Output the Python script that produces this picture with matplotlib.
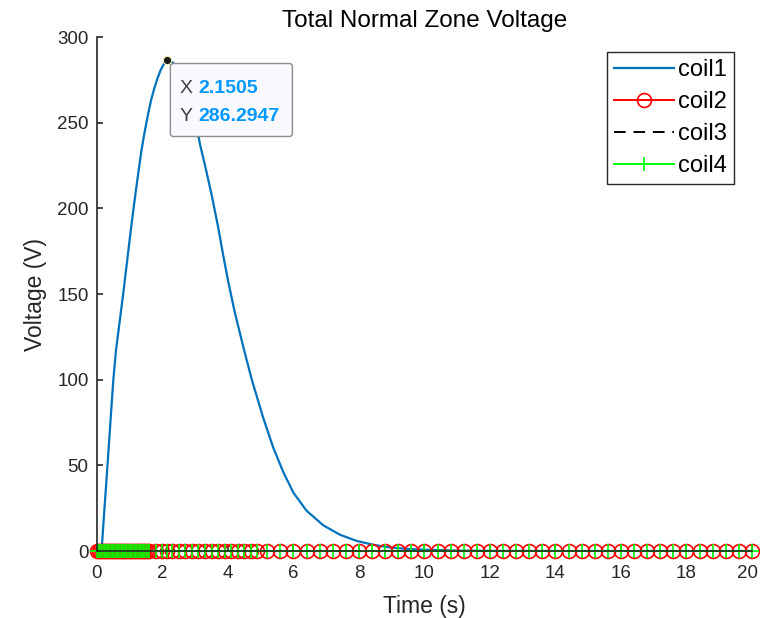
import matplotlib
matplotlib.use("Agg")
import matplotlib.pyplot as plt
from matplotlib.patches import FancyBboxPatch
from matplotlib.transforms import IdentityTransform, ScaledTranslation

plt.rcParams['font.family'] = ['Liberation Sans', 'DejaVu Sans']

# ---------------- data ----------------
# coil1 voltage curve (time in s, voltage in V)
t_coil1 = [0.0, 0.14, 0.2, 0.27, 0.35, 0.42, 0.5, 0.58, 0.7, 0.8, 0.9, 1.0,
           1.11, 1.2, 1.3, 1.36, 1.45, 1.55, 1.65, 1.75, 1.85, 1.95, 2.05,
           2.1505, 2.25, 2.35, 2.45, 2.55, 2.65, 2.75, 2.85, 2.95, 3.05,
           3.15, 3.3, 3.5, 3.7, 3.86, 4.0, 4.2, 4.47, 4.72, 5.08, 5.38, 5.69,
           6.0, 6.4, 6.91, 7.42, 7.93, 8.44, 8.95, 9.5, 10.0, 11.0, 12.0,
           14.0, 20.0]
v_coil1 = [0, 0, 17, 36, 58, 78, 100, 117, 135, 150, 166, 182,
           199, 212, 226, 234, 244, 254, 263, 270, 276, 281, 284.5,
           286.2947, 285.8, 284.5, 282, 278.5, 274, 268.5, 262, 255, 247,
           237, 225, 208, 189, 172, 158, 140, 119, 100.5, 77.5, 60.5, 46,
           34, 23.5, 15, 9.5, 5.9, 3.6, 2.1, 1.2, 0.7, 0.25, 0.08,
           0, 0]

# solver time steps used for coil2..coil4 (dense during the rise)
t_steps = [0.00, 0.05, 0.10, 0.15, 0.20, 0.25, 0.30, 0.35, 0.40, 0.45, 0.50,
           0.55, 0.60, 0.65, 0.70, 0.75, 0.80, 0.85, 0.90, 0.95, 1.00, 1.05,
           1.10, 1.15, 1.20, 1.25, 1.30, 1.35, 1.40, 1.45, 1.50, 1.55,
           1.6, 1.8, 2.0, 2.1505, 2.3, 2.5, 2.7, 2.9, 3.1, 3.3, 3.5, 3.7,
           3.9, 4.1, 4.3, 4.5, 4.7, 4.9,
           5.2, 5.6, 6.0, 6.4, 6.8, 7.2, 7.6, 8.0, 8.4, 8.8, 9.2, 9.6, 10.0,
           10.4, 10.8, 11.2, 11.6, 12.0, 12.4, 12.8, 13.2, 13.6, 14.0, 14.4,
           14.8, 15.2, 15.6, 16.0, 16.4, 16.8, 17.2, 17.6, 18.0, 18.4, 18.8,
           19.2, 19.6, 20.0]
coil2 = [0.0] * len(t_steps)
coil3 = [0.0] * len(t_steps)
coil4 = [0.0] * len(t_steps)

tip_x, tip_y = 2.1505, 286.2947
xticks = [0, 2, 4, 6, 8, 10, 12, 14, 16, 18, 20]
yticks = [0, 50, 100, 150, 200, 250, 300]

# ---------------- figure ----------------
fig = plt.figure(figsize=(7.6, 6.18), dpi=100)
ax = fig.add_axes([0.1276, 0.1084, 0.8618, 0.8317])

dark = '#262626'
ax.plot(t_coil1, v_coil1, color='#0072BD', lw=1.6, label='coil1')
ax.plot(t_steps, coil2, color='#FF0000', lw=1.4, marker='o', ms=10,
        mfc='none', mew=1.2, label='coil2', clip_on=False)
ax.plot(t_steps, coil3, color='black', lw=1.4, dashes=(6, 4), label='coil3',
        clip_on=False)
ax.plot(t_steps, coil4, color='#00FF00', lw=1.4, marker='+', ms=10, mew=1.2,
        label='coil4', clip_on=False)

ax.set_xlim(0, 20)
ax.set_ylim(0, 300)
ax.set_xticks(xticks)
ax.set_yticks(yticks)
for s in ['top', 'right']:
    ax.spines[s].set_visible(False)
for s in ['left', 'bottom']:
    ax.spines[s].set_color(dark)
    ax.spines[s].set_linewidth(1.2)
ax.tick_params(direction='in', length=4, width=1.2, colors=dark,
               labelsize=13.5)
ax.tick_params(axis='y', pad=6)
ax.tick_params(axis='x', pad=10)
# keep the last x label inside the picture
last = ax.get_xticklabels()[-1]
last.set_transform(last.get_transform()
                   + ScaledTranslation(-4 / 100, 0, fig.dpi_scale_trans))

ax.set_title('Total Normal Zone Voltage', fontsize=17.5, color='black', pad=7)
ax.set_xlabel('Time (s)', fontsize=16.5, color=dark)
ax.set_ylabel('Voltage (V)', fontsize=16.5, color=dark)
ax.xaxis.set_label_coords(0.5, -0.085)
ax.yaxis.set_label_coords(-0.076, 0.5)

leg = ax.legend(loc='upper right', bbox_to_anchor=(0.9725, 0.9708),
                borderaxespad=0, fontsize=17, handlelength=2.55,
                handletextpad=0.15, labelspacing=0.42, borderpad=0.3,
                fancybox=False, framealpha=1)
leg.get_frame().set_edgecolor(dark)
leg.get_frame().set_linewidth(1.0)

# ---------------- data tip ----------------
ax.plot([tip_x], [tip_y], 'o', color='#1a1a1a', ms=6, mec='#f5f0b0',
        mew=0.8, zorder=6, clip_on=False)
px, py = ax.transData.transform((tip_x, tip_y))
box = FancyBboxPatch((px + 3, py - 76), 122, 73,
                     boxstyle='round,pad=0,rounding_size=3',
                     transform=IdentityTransform(), fc='#f9f9ff',
                     ec='#8c8c8c', lw=1.0, zorder=7)
fig.patches.append(box)
box.set_figure(fig)
for dy, lab, val in [(-28, 'X', '2.1505'), (-56, 'Y', '286.2947')]:
    fig.text(px + 12, py + dy, lab, transform=IdentityTransform(),
             fontsize=14, color='#404040', va='center', ha='left', zorder=8)
    fig.text(px + 31, py + dy, val, transform=IdentityTransform(),
             fontsize=14, color='#0099FF', fontweight='bold',
             va='center', ha='left', zorder=8)

fig.savefig('out.png', dpi=100)
